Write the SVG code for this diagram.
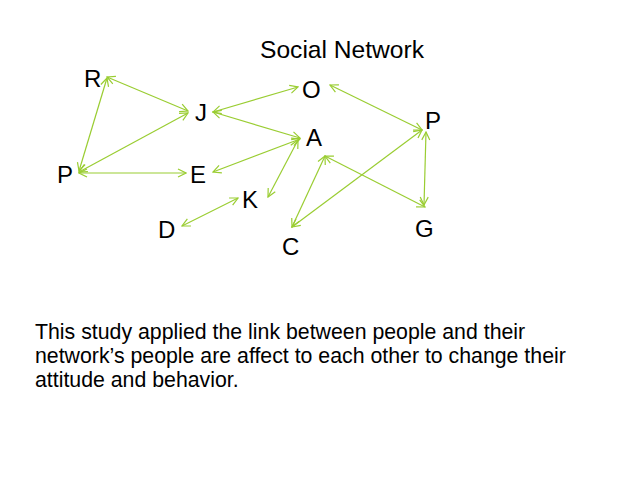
<svg xmlns="http://www.w3.org/2000/svg" width="638" height="479" viewBox="0 0 638 479">
<defs>
<style>
.lbl{font-family:"Liberation Sans",Arial,sans-serif;font-size:24px;fill:#000}
.title{font-family:"Liberation Sans",Arial,sans-serif;font-size:24.6px;fill:#000}
.body{font-family:"Liberation Sans",Arial,sans-serif;font-size:21.3px;fill:#000}
.edge{stroke:#9ACD32;stroke-width:1.2;fill:none;marker-start:url(#ah);marker-end:url(#ah)}
</style>
<marker id="ah" viewBox="0 0 10 10" refX="9" refY="5" markerWidth="10" markerHeight="10" markerUnits="userSpaceOnUse" orient="auto-start-reverse">
<path d="M1,1 L9,5 L1,9" fill="none" stroke="#9ACD32" stroke-width="1.2"/>
</marker>
</defs>
<rect width="638" height="479" fill="#fff"/>
<text class="title" x="260" y="58">Social Network</text>
<g id="connectors">
<line class="edge" x1="107" y1="77" x2="188" y2="111"/>
<line class="edge" x1="107" y1="78" x2="79" y2="171"/>
<line class="edge" x1="79" y1="172" x2="188" y2="113"/>
<line class="edge" x1="79" y1="173" x2="186" y2="173"/>
<line class="edge" x1="213" y1="112" x2="298" y2="87"/>
<line class="edge" x1="213" y1="112" x2="300" y2="138"/>
<line class="edge" x1="300" y1="139" x2="213" y2="172"/>
<line class="edge" x1="298" y1="140" x2="268" y2="197"/>
<line class="edge" x1="182" y1="226" x2="238" y2="198"/>
<line class="edge" x1="325" y1="156" x2="292" y2="227"/>
<line class="edge" x1="292" y1="227" x2="422" y2="130"/>
<line class="edge" x1="325" y1="156" x2="425" y2="207"/>
<line class="edge" x1="330" y1="85" x2="422" y2="130"/>
<line class="edge" x1="426" y1="132" x2="424" y2="205"/>
</g>
<g id="R"><text class="lbl" x="84" y="87">R</text></g>
<g id="J"><text class="lbl" x="195" y="121">J</text></g>
<g id="P1"><text class="lbl" x="57" y="183">P</text></g>
<g id="E"><text class="lbl" x="190" y="183">E</text></g>
<g id="K"><text class="lbl" x="242" y="208">K</text></g>
<g id="D"><text class="lbl" x="158" y="238">D</text></g>
<g id="C"><text class="lbl" x="282" y="255">C</text></g>
<g id="O"><text class="lbl" x="302" y="98">O</text></g>
<g id="A"><text class="lbl" x="306" y="146">A</text></g>
<g id="P2"><text class="lbl" x="425" y="129">P</text></g>
<g id="G"><text class="lbl" x="415" y="237">G</text></g>
<text class="body" x="35" y="339">This study applied the link between people and their</text>
<text class="body" x="35" y="363">network’s people are affect to each other to change their</text>
<text class="body" x="35" y="387">attitude and behavior.</text>
</svg>
